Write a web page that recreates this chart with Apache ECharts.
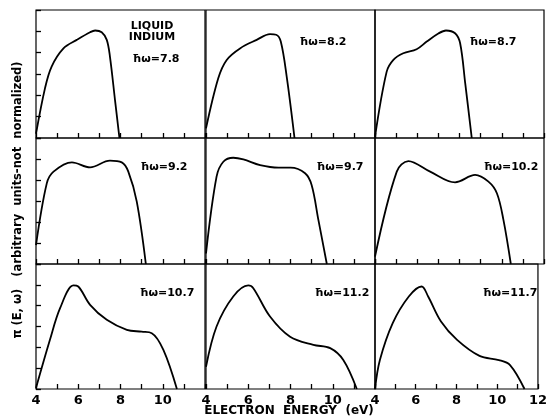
<!DOCTYPE html>
<html>
<head>
<meta charset="utf-8">
<script src="https://cdn.jsdelivr.net/npm/echarts@6/dist/echarts.min.js"></script>
<style>
  html, body { margin: 0; padding: 0; background: #fff; }
  #chart { width: 550px; height: 419px; }
</style>
</head>
<body>
<div id="chart"></div>
<script>
// photon energies (eV), one per panel, read left to right, top to bottom
var photonEnergy = ["7.8", "8.2", "8.7", "9.2", "9.7", "10.2", "10.7", "11.2", "11.7"];

// energy distribution curves [electron energy (eV), arbitrary units]
var curve78 = [[4, 0.2], [4.43, 2.35], [4.74, 3.35], [5.3, 4.2], [5.93, 4.6], [6.56, 4.96], [6.8, 5.04], [7.11, 4.96], [7.35, 4.6], [7.5, 3.82], [7.74, 1.78], [7.95, 0]];
var curve82 = [[4, 0.45], [4.58, 2.8], [4.98, 3.66], [5.61, 4.2], [6.4, 4.6], [7.03, 4.87], [7.32, 4.84], [7.54, 4.52], [7.82, 2.88], [8.19, 0]];
var curve87 = [[4, 0.05], [4.55, 3.1], [4.87, 3.66], [5.34, 3.97], [5.97, 4.16], [6.45, 4.52], [7.0, 4.9], [7.36, 5.04], [7.79, 4.91], [8.03, 4.44], [8.27, 2.57], [8.58, 0]];
var curve92 = [[4, 0.9], [4.51, 3.84], [4.83, 4.4], [5.7, 4.84], [6.56, 4.6], [7.5, 4.92], [8.06, 4.84], [8.37, 4.4], [8.77, 2.97], [9.2, 0]];
var curve97 = [[4, 0.5], [4.5, 4.16], [4.82, 4.87], [5.29, 5.06], [5.77, 4.98], [6.56, 4.71], [7.43, 4.59], [8.0, 4.59], [8.69, 4.32], [9.0, 3.76], [9.32, 2.1], [9.72, 0]];
var curve102 = [[4, 0.35], [5.03, 4.4], [5.58, 4.9], [6.61, 4.4], [7.79, 3.89], [8.74, 4.24], [9.37, 3.92], [9.77, 3.37], [10.08, 2.1], [10.43, 0]];
var curve107 = [[4, 0.05], [4.66, 2.36], [5.14, 3.88], [5.77, 4.97], [6.0, 4.92], [6.56, 4.04], [7.35, 3.32], [8.3, 2.84], [9.0, 2.75], [9.48, 2.68], [10.03, 1.88], [10.67, 0]];
var curve112 = [[4, 1.07], [4.5, 3.0], [5.29, 4.44], [6.0, 4.97], [6.24, 4.84], [7.03, 3.48], [7.98, 2.51], [9.08, 2.12], [9.88, 1.96], [10.5, 1.39], [11.14, 0]];
var curve117 = [[4, 0], [4.24, 1.39], [4.87, 3.16], [5.66, 4.44], [6.29, 4.92], [6.61, 4.44], [7.24, 3.24], [8.03, 2.36], [9.13, 1.59], [10.08, 1.39], [10.63, 1.15], [11.34, 0]];

var curves = [curve78, curve82, curve87, curve92, curve97, curve102, curve107, curve112, curve117];

var colLeft = [36, 206, 375];
var colWidth = 169;
var rowTop = [10, 138, 264];
var rowHeight = [128, 126, 125];
// label spots (centre) for the hbar-omega text in each panel
var labelPos = [[156, 59], [323, 42], [493, 42], [164, 167], [340, 167], [511, 167], [167, 293], [342, 293], [510, 293]];

var font = "DejaVu Sans";
var chart = echarts.init(document.getElementById("chart"));

var grids = [], xAxes = [], yAxes = [], series = [], texts = [];
for (var i = 0; i < 9; i++) {
  var r = Math.floor(i / 3), c = i % 3;
  grids.push({
    left: colLeft[c], top: rowTop[r], width: colWidth, height: rowHeight[r],
    show: true, borderColor: "#000", borderWidth: 1.2, backgroundColor: "transparent"
  });
  (function (r, c) {
    xAxes.push({
      gridIndex: i, type: "value", min: 4, max: 12, interval: 1,
      axisLine: { show: false },
      splitLine: { show: false },
      axisTick: { show: true, inside: true, length: 5, lineStyle: { color: "#000", width: 1.3 } },
      axisLabel: {
        show: r === 2, margin: 5, color: "#000", fontFamily: font, fontSize: 13, fontWeight: "bold",
        formatter: function (v) {
          if (v % 2 !== 0) return "";
          if (v === 12 && c !== 2) return "";
          return String(v);
        }
      }
    });
    yAxes.push({
      gridIndex: i, type: "value", min: 0, max: 6, interval: 1,
      axisLine: { show: false },
      splitLine: { show: false },
      axisLabel: { show: false },
      axisTick: { show: c === 0, inside: true, length: 5, lineStyle: { color: "#000", width: 1.3 } }
    });
  })(r, c);
  series.push({
    type: "line", xAxisIndex: i, yAxisIndex: i, data: curves[i],
    smooth: 0.35, symbol: "none", silent: true,
    lineStyle: { color: "#000", width: 1.8 }
  });
  texts.push({
    type: "text", x: labelPos[i][0], y: labelPos[i][1],
    style: { text: "ħω=" + photonEnergy[i], fill: "#000", font: "bold 11px " + font, align: "center", verticalAlign: "middle" }
  });
}

texts.push({ type: "text", x: 152, y: 26, style: { text: "LIQUID", fill: "#000", font: "bold 11px " + font, align: "center", verticalAlign: "middle" } });
texts.push({ type: "text", x: 152, y: 37, style: { text: "INDIUM", fill: "#000", font: "bold 11px " + font, align: "center", verticalAlign: "middle" } });
texts.push({ type: "text", x: 289, y: 411, style: { text: "ELECTRON  ENERGY  (eV)", fill: "#000", font: "bold 12px " + font, align: "center", verticalAlign: "middle" } });
texts.push({
  type: "text", x: 18, y: 200, rotation: Math.PI / 2,
  style: { text: "π (E, ω)   (arbitrary  units-not  normalized)", fill: "#000", font: "bold 11.5px " + font, align: "center", verticalAlign: "middle" }
});

chart.setOption({
  animation: false,
  grid: grids,
  xAxis: xAxes,
  yAxis: yAxes,
  series: series,
  graphic: texts
});
window.addEventListener("resize", function () { chart.resize(); });
</script>
</body>
</html>
